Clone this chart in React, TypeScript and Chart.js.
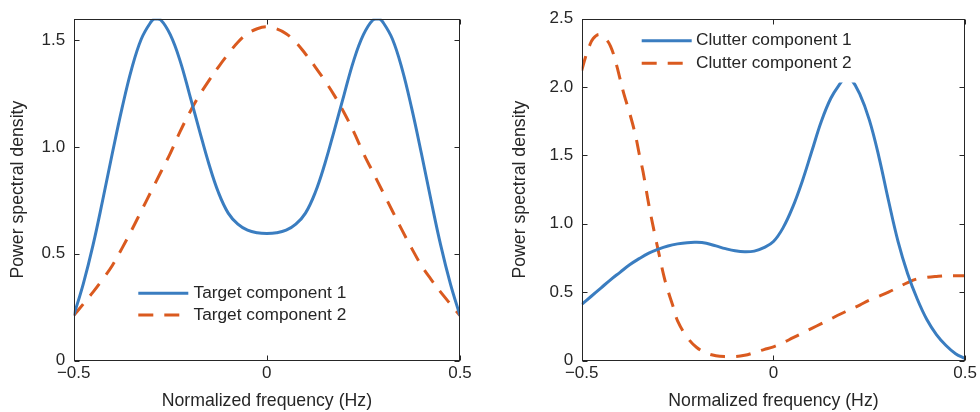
import React, { useEffect, useRef } from 'react';
import { Chart, registerables } from 'chart.js';

Chart.register(...registerables);

const TEXT = '#262626';
const BLUE = '#3A7DC0';
const RED = '#DA5A1F';
const FONT = 'Arial, "Liberation Sans", Helvetica, sans-serif';

// ---- tick values ----
const X_TICKS = [-0.5, 0, 0.5];
const LEFT_Y_TICKS = [0, 0.5, 1.0, 1.5];
const RIGHT_Y_TICKS = [0, 0.5, 1.0, 1.5, 2.0, 2.5];

// ---- left panel: target components ----
const TARGET1_FREQ = [-0.5, -0.475, -0.45, -0.425, -0.4, -0.375, -0.35, -0.325, -0.3, -0.29, -0.275, -0.25, -0.225, -0.2, -0.175, -0.15, -0.125, -0.1, -0.075, -0.05, -0.025, 0, 0.025, 0.05, 0.075, 0.1, 0.125, 0.15, 0.175, 0.2, 0.225, 0.25, 0.275, 0.29, 0.3, 0.325, 0.35, 0.375, 0.4, 0.425, 0.45, 0.475, 0.5];
const TARGET1_PSD = [0.21, 0.36, 0.54, 0.75, 0.97, 1.18, 1.365, 1.505, 1.585, 1.6, 1.595, 1.525, 1.405, 1.245, 1.08, 0.92, 0.785, 0.69, 0.638, 0.61, 0.598, 0.595, 0.598, 0.61, 0.638, 0.69, 0.785, 0.92, 1.08, 1.245, 1.405, 1.525, 1.595, 1.6, 1.585, 1.505, 1.365, 1.18, 0.97, 0.75, 0.54, 0.36, 0.21];

const TARGET2_FREQ = [-0.5, -0.475, -0.45, -0.425, -0.4, -0.375, -0.35, -0.325, -0.3, -0.275, -0.25, -0.225, -0.2, -0.175, -0.15, -0.125, -0.1, -0.075, -0.05, -0.025, 0, 0.025, 0.05, 0.075, 0.1, 0.125, 0.15, 0.175, 0.2, 0.225, 0.25, 0.275, 0.3, 0.325, 0.35, 0.375, 0.4, 0.425, 0.45, 0.475, 0.5];
const TARGET2_PSD = [0.21, 0.265, 0.32, 0.38, 0.445, 0.525, 0.61, 0.7, 0.79, 0.88, 0.97, 1.07, 1.16, 1.24, 1.31, 1.375, 1.435, 1.49, 1.53, 1.553, 1.562, 1.553, 1.53, 1.49, 1.435, 1.375, 1.31, 1.24, 1.16, 1.07, 0.97, 0.88, 0.79, 0.7, 0.61, 0.525, 0.445, 0.38, 0.32, 0.265, 0.21];

// ---- right panel: clutter components ----
const CLUTTER1_FREQ = [-0.5, -0.475, -0.45, -0.425, -0.4, -0.375, -0.35, -0.325, -0.3, -0.275, -0.25, -0.225, -0.2, -0.175, -0.15, -0.125, -0.1, -0.075, -0.05, -0.025, 0, 0.025, 0.05, 0.075, 0.1, 0.125, 0.15, 0.175, 0.19, 0.2, 0.225, 0.25, 0.275, 0.3, 0.325, 0.35, 0.375, 0.4, 0.425, 0.45, 0.475, 0.5];
const CLUTTER1_PSD = [0.41, 0.47, 0.53, 0.59, 0.645, 0.7, 0.745, 0.785, 0.815, 0.838, 0.853, 0.862, 0.864, 0.857, 0.838, 0.818, 0.802, 0.795, 0.8, 0.825, 0.87, 0.97, 1.12, 1.31, 1.53, 1.75, 1.92, 2.03, 2.08, 2.07, 1.95, 1.76, 1.49, 1.17, 0.87, 0.635, 0.45, 0.3, 0.19, 0.11, 0.05, 0.015];

const CLUTTER2_FREQ = [-0.5, -0.49, -0.48, -0.47, -0.455, -0.44, -0.425, -0.41, -0.4, -0.39, -0.375, -0.36, -0.35, -0.34, -0.325, -0.31, -0.3, -0.285, -0.275, -0.26, -0.25, -0.225, -0.2, -0.175, -0.15, -0.125, -0.1, -0.075, -0.05, -0.025, 0, 0.025, 0.05, 0.075, 0.1, 0.125, 0.15, 0.175, 0.2, 0.225, 0.25, 0.275, 0.3, 0.325, 0.35, 0.375, 0.4, 0.425, 0.45, 0.475, 0.5];
const CLUTTER2_PSD = [2.12, 2.22, 2.3, 2.355, 2.385, 2.36, 2.3, 2.17, 2.06, 1.95, 1.81, 1.65, 1.51, 1.38, 1.14, 0.93, 0.8, 0.61, 0.51, 0.38, 0.29, 0.17, 0.095, 0.055, 0.035, 0.028, 0.028, 0.038, 0.058, 0.08, 0.1, 0.13, 0.165, 0.2, 0.235, 0.27, 0.305, 0.34, 0.373, 0.405, 0.442, 0.47, 0.5, 0.535, 0.57, 0.597, 0.608, 0.615, 0.62, 0.62, 0.62];

const X_TITLE = 'Normalized frequency (Hz)';
const Y_TITLE = 'Power spectral density';

const fmtX = (v: number) => (v === 0 ? '0' : v < 0 ? '\u2212' + Math.abs(v).toFixed(1) : v.toFixed(1));
const fmtY = (v: number) => (v === 0 ? '0' : v.toFixed(1));

const framePlugin = {
  id: 'matlabFrame',
  afterDraw(chart: any) {
    const { ctx, chartArea: a, scales } = chart;
    const L = Math.round(a.left) + 0.5;
    const R = Math.round(a.right) - 0.5;
    const T = Math.round(a.top) + 0.5;
    const B = Math.round(a.bottom) - 0.5;
    const tl = 5;
    ctx.save();
    ctx.strokeStyle = TEXT;
    ctx.lineWidth = 1;
    ctx.setLineDash([]);
    ctx.strokeRect(L, T, R - L, B - T);
    ctx.beginPath();
    for (const t of scales.x.ticks) {
      const px = Math.round(scales.x.getPixelForValue(t.value)) + 0.5;
      ctx.moveTo(px, B);
      ctx.lineTo(px, B - tl);
      ctx.moveTo(px, T);
      ctx.lineTo(px, T + tl);
    }
    for (const t of scales.y.ticks) {
      const py = Math.round(scales.y.getPixelForValue(t.value)) + 0.5;
      ctx.moveTo(L, py);
      ctx.lineTo(L + tl, py);
      ctx.moveTo(R, py);
      ctx.lineTo(R - tl, py);
    }
    ctx.stroke();
    ctx.restore();
  },
};

type LegendLayout = { box: number[]; lineX0: number; lineX1: number; textX: number; rows: number[] };

const makeLegendPlugin = (lg: LegendLayout) => ({
  id: 'boxLegend',
  afterDatasetsDraw(chart: any) {
    const ctx = chart.ctx;
    ctx.save();
    ctx.fillStyle = '#ffffff';
    ctx.fillRect(lg.box[0], lg.box[1], lg.box[2], lg.box[3]);
    chart.data.datasets.forEach((ds: any, i: number) => {
      const y = lg.rows[i];
      ctx.strokeStyle = ds.borderColor;
      ctx.lineWidth = ds.borderWidth;
      ctx.lineCap = 'butt';
      ctx.setLineDash(ds.borderDash || []);
      ctx.beginPath();
      ctx.moveTo(lg.lineX0, y);
      ctx.lineTo(lg.lineX1, y);
      ctx.stroke();
      ctx.setLineDash([]);
      ctx.fillStyle = TEXT;
      ctx.font = `17.3px ${FONT}`;
      ctx.textBaseline = 'middle';
      ctx.textAlign = 'left';
      ctx.fillText(ds.label, lg.textX, y);
    });
    ctx.restore();
  },
});

type PanelProps = {
  f1: number[];
  p1: number[];
  f2: number[];
  p2: number[];
  label1: string;
  label2: string;
  yMax: number;
  yTicks: number[];
  yAxisWidth: number;
  padRight: number;
  yTitlePad: number;
  legend: LegendLayout;
};

function Panel(props: PanelProps) {
  const ref = useRef<HTMLCanvasElement | null>(null);
  useEffect(() => {
    if (!ref.current) return;
    const tickFont = { family: FONT, size: 17 };
    const titleFont = { family: FONT, size: 17.7 };
    const chart = new Chart(ref.current, {
      type: 'line',
      data: {
        datasets: [
          {
            label: props.label1,
            data: props.f1.map((x, i) => ({ x, y: props.p1[i] })),
            borderColor: BLUE,
            borderWidth: 3,
            pointRadius: 0,
            fill: false,
            tension: 0.4,
          },
          {
            label: props.label2,
            data: props.f2.map((x, i) => ({ x, y: props.p2[i] })),
            borderColor: RED,
            borderWidth: 3,
            borderDash: [15, 11],
            pointRadius: 0,
            fill: false,
            tension: 0.4,
          },
        ],
      },
      options: {
        responsive: false,
        animation: false,
        devicePixelRatio: 1,
        layout: { padding: { left: 0, right: props.padRight, top: 10.4, bottom: 0 } },
        plugins: { legend: { display: false }, tooltip: { enabled: false } },
        scales: {
          x: {
            type: 'linear',
            min: -0.5,
            max: 0.5,
            afterBuildTicks: (s: any) => {
              s.ticks = X_TICKS.map((v) => ({ value: v }));
            },
            afterFit: (s: any) => {
              s.height = 412 - 360.5;
            },
            grid: { display: false, drawTicks: false },
            border: { display: false },
            ticks: {
              padding: 3,
              color: TEXT,
              font: tickFont,
              maxRotation: 0,
              autoSkip: false,
              callback: (v: any) => fmtX(Number(v)),
            },
            title: { display: true, text: X_TITLE, color: TEXT, font: titleFont, padding: { top: 0, bottom: 0 } },
          },
          y: {
            type: 'linear',
            min: 0,
            max: props.yMax,
            afterBuildTicks: (s: any) => {
              s.ticks = props.yTicks.map((v) => ({ value: v }));
            },
            afterFit: (s: any) => {
              s.width = props.yAxisWidth;
            },
            grid: { display: false, drawTicks: false },
            border: { display: false },
            ticks: {
              padding: 8.5,
              color: TEXT,
              font: tickFont,
              autoSkip: false,
              callback: (v: any) => fmtY(Number(v)),
            },
            title: { display: true, text: Y_TITLE, color: TEXT, font: titleFont, padding: { top: props.yTitlePad, bottom: 0 } },
          },
        },
      } as any,
      plugins: [makeLegendPlugin(props.legend), framePlugin],
    } as any);
    return () => chart.destroy();
  }, []);
  return <canvas ref={ref} width={490} height={412} style={{ display: 'block', width: 490, height: 412 }} />;
}

export default function App() {
  return (
    <div style={{ position: 'absolute', left: 0, top: 0, width: 980, height: 412, background: '#ffffff' }}>
      <div style={{ position: 'absolute', left: 0, top: 0, width: 490, height: 412 }}>
        <Panel
          f1={TARGET1_FREQ}
          p1={TARGET1_PSD}
          f2={TARGET2_FREQ}
          p2={TARGET2_PSD}
          label1="Target component 1"
          label2="Target component 2"
          yMax={1.6}
          yTicks={LEFT_Y_TICKS}
          yAxisWidth={73.7}
          padRight={30}
          yTitlePad={7.8}
          legend={{ box: [128, 280, 232, 48], lineX0: 138.3, lineX1: 188.3, textX: 193.5, rows: [293.3, 315] }}
        />
      </div>
      <div style={{ position: 'absolute', left: 490, top: 0, width: 490, height: 412 }}>
        <Panel
          f1={CLUTTER1_FREQ}
          p1={CLUTTER1_PSD}
          f2={CLUTTER2_FREQ}
          p2={CLUTTER2_PSD}
          label1="Clutter component 1"
          label2="Clutter component 2"
          yMax={2.5}
          yTicks={RIGHT_Y_TICKS}
          yAxisWidth={91.7}
          padRight={12.7}
          yTitlePad={19.5}
          legend={{ box: [142, 24, 236, 58.5], lineX0: 151.7, lineX1: 201.7, textX: 206, rows: [40.7, 63.3] }}
        />
      </div>
    </div>
  );
}
